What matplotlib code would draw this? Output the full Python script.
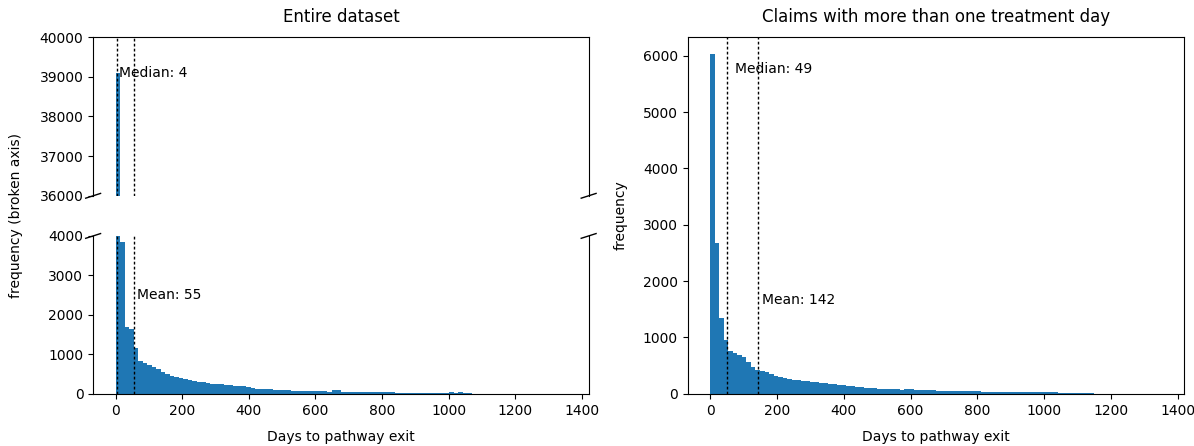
import numpy as np
import matplotlib
matplotlib.use("Agg")
import matplotlib.pyplot as plt

# ── Data ──────────────────────────────────────────────────────────────────────
BIN_MAX = 1353
N_BINS = 100

# entire dataset, counts per bin (100 bins over 0..1353 days)
all_counts = [
    39100, 3850, 1700, 1650, 1150, 820, 790, 720, 680, 620,
    560, 500, 460, 420, 390, 370, 340, 320, 300, 290,
    270, 260, 250, 240, 225, 215, 205, 200, 190, 175,
    140, 130, 125, 120, 110, 100, 95, 90, 85, 80,
    78, 75, 72, 70, 65, 62, 60, 58, 90, 85,
    55, 50, 48, 45, 44, 42, 40, 40, 38, 36,
    35, 34, 32, 30, 30, 28, 27, 26, 25, 24,
    23, 22, 22, 20, 40, 15, 35, 12, 30, 5,
    3, 0, 0, 0, 0, 0, 0, 0, 0, 0,
    0, 0, 0, 0, 0, 0, 0, 0, 0, 1,
]

# claims with more than one treatment day
multi_counts = [
    6030, 2680, 1350, 960, 760, 730, 690, 650, 560, 470,
    430, 400, 380, 360, 320, 300, 285, 270, 250, 240,
    230, 225, 215, 210, 200, 190, 180, 170, 160, 150,
    135, 130, 125, 120, 110, 100, 95, 90, 85, 82,
    80, 78, 75, 85, 80, 70, 68, 65, 62, 60,
    58, 57, 55, 54, 52, 50, 50, 48, 45, 42,
    40, 40, 38, 36, 35, 34, 33, 32, 30, 30,
    28, 28, 27, 26, 25, 25, 24, 23, 22, 22,
    21, 20, 20, 18, 15, 5, 0, 0, 0, 0,
    0, 0, 0, 0, 0, 0, 0, 0, 0, 1,
]

all_median, all_mean = 4, 55
multi_median, multi_mean = 49, 142

edges = np.linspace(0, BIN_MAX, N_BINS + 1)
left_edges = edges[:-1]

# ── Figure ────────────────────────────────────────────────────────────────────
fig = plt.figure(figsize=(11.94, 4.46), dpi=100)

ax_top = fig.add_axes([0.078, 0.561, 0.415, 0.356])
ax_bot = fig.add_axes([0.078, 0.117, 0.415, 0.354])
ax_r   = fig.add_axes([0.576, 0.117, 0.416, 0.800])

line_kw = dict(color="k", ls=(0, (2, 1.6)), lw=1)

# left: broken axis
for ax in (ax_top, ax_bot):
    ax.hist(left_edges, bins=edges, weights=all_counts, color="C0")
    ax.axvline(all_median, **line_kw)
    ax.axvline(all_mean, **line_kw)

ax_top.set_ylim(36000, 40000)
ax_bot.set_ylim(0, 4000)
ax_top.set_xlim(ax_bot.get_xlim())
ax_top.spines["bottom"].set_visible(False)
ax_bot.spines["top"].set_visible(False)
ax_top.tick_params(bottom=False, labelbottom=False)
ax_top.set_xticks(range(0, 1401, 200))
ax_bot.set_xticks(range(0, 1401, 200))

ax_top.text(all_median + 5, 39000, f"Median: {all_median}")
ax_bot.text(all_mean + 9, 2400, f"Mean: {all_mean}")

d = .015
kw = dict(transform=ax_top.transAxes, color="k", clip_on=False, lw=1)
ax_top.plot((-d, +d), (-d, +d), **kw)
ax_top.plot((1 - d, 1 + d), (-d, +d), **kw)
kw.update(transform=ax_bot.transAxes)
ax_bot.plot((-d, +d), (1 - d, 1 + d), **kw)
ax_bot.plot((1 - d, 1 + d), (1 - d, 1 + d), **kw)

ax_top.set_title("Entire dataset", pad=11)
ax_bot.set_xlabel("Days to pathway exit", labelpad=9)
fig.text(0.0135, 0.516, "frequency (broken axis)", rotation=90,
         ha="center", va="center")

# right
ax_r.hist(left_edges, bins=edges, weights=multi_counts, color="C0")
ax_r.axvline(multi_median, **line_kw)
ax_r.axvline(multi_mean, **line_kw)
ax_r.set_xticks(range(0, 1401, 200))
ax_r.text(multi_median + 26, 5700, f"Median: {multi_median}")
ax_r.text(multi_mean + 14, 1600, f"Mean: {multi_mean}")
ax_r.set_title("Claims with more than one treatment day", pad=11)
ax_r.set_xlabel("Days to pathway exit", labelpad=9)
ax_r.set_ylabel("frequency", labelpad=11)

fig.savefig("out.png", dpi=100)
